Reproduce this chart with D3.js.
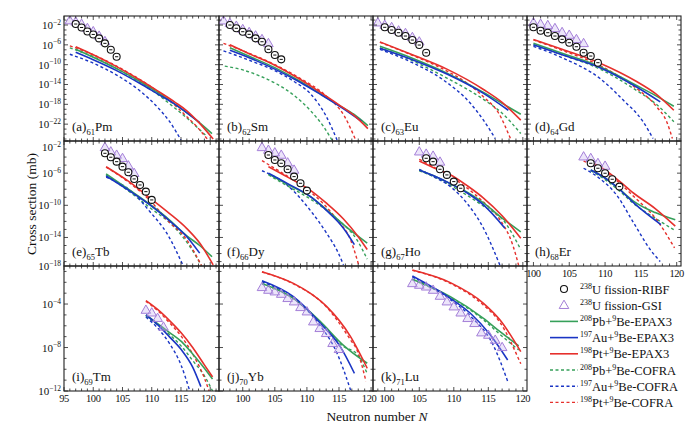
<!DOCTYPE html>
<html>
<head>
<meta charset="utf-8">
<script src="https://cdn.jsdelivr.net/npm/d3@7"></script>
<style>
  body { margin: 0; background: #fff; }
  svg text { font-family: "Liberation Serif", "DejaVu Serif", serif; fill: #111; }
</style>
</head>
<body>
<div id="chart"></div>
<script>
// panels, in reading order (a) ... (k)
const panelTags = ["a", "b", "c", "d", "e", "f", "g", "h", "i", "j", "k"]
const protonZ = [61, 62, 63, 64, 65, 66, 67, 68, 69, 70, 71]
const elements = ["Pm", "Sm", "Eu", "Gd", "Tb", "Dy", "Ho", "Er", "Tm", "Yb", "Lu"]

// every point is [neutron number N, log10 of cross section in mb]
const ribf = [
  [[97,-1.8],[98,-2.5],[99,-3.3],[100,-3.9],[101,-4.7],[102,-5.7],[103,-7.0],[104,-8.4]],
  [[98,-2.0],[99,-2.66],[100,-3.35],[101,-3.88],[102,-4.69],[103,-5.37],[104,-6.9],[105,-8.06],[106,-8.93]],
  [[100,-2.46],[101,-3.01],[102,-3.55],[103,-4.22],[104,-5.03],[105,-6.04],[106,-7.59]],
  [[100,-2.46],[101,-3.15],[102,-3.55],[103,-4.22],[104,-4.89],[105,-5.57],[106,-6.38],[107,-7.59],[108,-8.26],[109,-9.6]],
  [[102,-3.53],[103,-4.02],[104,-4.57],[105,-5.19],[106,-5.89],[107,-6.72],[108,-7.47],[109,-8.3],[110,-9.33]],
  [[104,-3.74],[105,-4.36],[106,-4.77],[107,-5.52],[108,-6.43],[109,-7.26],[110,-8.17]],
  [[106,-4.15],[107,-4.57],[108,-5.52],[109,-6.22],[110,-7.05],[111,-7.88]],
  [[108,-4.77],[109,-5.39],[110,-6.01],[111,-6.76],[112,-7.67]],
  [], [], []
]

const gsi = [
  [[96,-1.1],[97,-1.35],[98,-1.8],[99,-2.65],[100,-3.3],[101,-4.2],[102,-5.3]],
  [[97,-1.13],[98,-1.65],[99,-2.2],[100,-2.87],[101,-3.47],[102,-4.16],[103,-4.89],[104,-5.7]],
  [[99,-1.53],[100,-2.0],[101,-2.46],[102,-3.15],[103,-3.67],[104,-4.48],[105,-5.37]],
  [[100,-1.53],[101,-1.8],[102,-2.06],[103,-2.67],[104,-3.47],[105,-4.02],[106,-4.89],[107,-5.7]],
  [[102,-2.79],[103,-3.33],[104,-3.74],[105,-4.15],[106,-5.07],[107,-6.01]],
  [[103,-2.79],[104,-3.12],[105,-3.45],[106,-3.74],[107,-4.7],[108,-5.6]],
  [[105,-3.33],[106,-3.61],[107,-3.86],[108,-4.6]],
  [[107,-3.95],[108,-4.15],[109,-4.77],[110,-5.11]],
  [[109,-4.55],[110,-4.8],[111,-5.3],[112,-6.1]],
  [[103,-2.46],[104,-2.71],[105,-2.86],[106,-3.08],[107,-3.47],[108,-3.78],[109,-4.3],[110,-4.7],[111,-5.62],[112,-6.23],[113,-6.69],[114,-7.61],[115,-8.16]],
  [[104,-2.1],[105,-2.25],[106,-2.41],[107,-2.71],[108,-3.26],[109,-3.78],[110,-4.24],[111,-4.8],[112,-5.31],[113,-5.77],[114,-6.63],[115,-6.85],[116,-7.31],[117,-7.98]]
]

const epaxPb = [
  [[97,-6.9],[100,-8.5],[104,-10.8],[108,-13.4],[111,-15.6],[114,-18.0],[117,-20.6],[120.3,-23.9]],
  [[98,-6.6],[101,-8.3],[105,-10.6],[109,-13.4],[112,-15.8],[115,-18.2],[117.3,-20.0],[119.5,-22.3]],
  [[99.3,-6.3],[104,-8.7],[109,-11.7],[114.3,-15.6],[117,-17.8],[119.7,-20.0]],
  [[100,-5.7],[104,-7.7],[109.3,-10.4],[114.4,-14.2],[117,-16.2],[119.6,-18.4]],
  [[102.2,-6.1],[106,-8.0],[109.7,-9.9],[113,-11.8],[116,-13.8],[118.2,-15.0],[120.3,-16.4]],
  [[104,-6.1],[107,-7.4],[110.5,-8.9],[113,-10.5],[115.7,-12.4],[119.4,-14.7]],
  [[105,-5.6],[107,-6.3],[109.5,-7.3],[112,-8.4],[114.3,-9.7],[117,-11.6],[119.7,-13.3]],
  [[108,-5.6],[110,-6.6],[112,-8.0],[114,-9.5],[117,-10.9],[119.8,-11.8]],
  [[109,-5.0],[111,-5.8],[113,-6.6],[115.1,-7.46],[117,-8.6],[119,-9.9],[120.4,-10.9]],
  [[103,-2.1],[107.9,-3.47],[112.1,-5.62],[115.7,-7.8],[119.4,-9.45]],
  [[104,-1.72],[109.5,-3.32],[114.3,-5.31],[116.7,-6.54],[119.4,-7.84]]
]

const epaxAu = [
  [[97,-7.5],[100,-9.0],[104,-11.2],[108,-13.8],[111,-15.9],[114,-18.0],[118.2,-21.7]],
  [[98,-7.1],[101,-8.6],[105,-10.9],[109,-13.6],[112,-15.9],[115,-18.3],[117.3,-20.3],[118.5,-21.4]],
  [[99.3,-6.7],[104,-9.0],[109,-11.9],[114.3,-15.8],[117.9,-19.2]],
  [[100,-6.0],[104,-8.0],[109.3,-10.6],[114.4,-14.5],[117.7,-17.5]],
  [[102.2,-6.35],[106,-8.1],[109.7,-9.95],[113,-11.9],[116,-13.9],[118.2,-15.95]],
  [[104,-6.0],[107,-7.3],[110.5,-8.9],[113,-10.6],[115.7,-12.85],[117.4,-14.9]],
  [[105,-5.6],[107,-6.3],[109.5,-7.3],[112,-8.5],[114.3,-9.95],[117.4,-12.85]],
  [[108,-5.6],[110,-6.6],[112,-8.0],[114,-9.7],[117.8,-12.4]],
  [[109,-5.0],[111,-5.9],[113,-7.0],[115.1,-8.23],[117,-9.8],[118.4,-11.6]],
  [[103,-1.85],[107.9,-3.32],[112.1,-5.77],[115.2,-7.92],[117.4,-10.37]],
  [[104,-1.42],[109.5,-3.47],[112.4,-4.85],[115.3,-6.85],[117.8,-9.15]]
]

const epaxPt = [
  [[97,-6.4],[100,-8.0],[104,-10.4],[108,-13.1],[111,-15.3],[114,-17.6],[116,-19.3],[118,-21.6],[120.5,-25.0]],
  [[98,-6.0],[101,-7.8],[105,-10.1],[109,-13.0],[112,-15.5],[115,-18.1],[117.3,-20.2],[119.5,-22.9]],
  [[99.3,-5.4],[104,-8.0],[109,-10.9],[114.3,-15.0],[117,-17.6],[119.7,-21.2]],
  [[100,-4.9],[104,-6.9],[109.3,-9.7],[114.4,-13.4],[117,-15.8],[119.6,-19.2]],
  [[102.2,-5.2],[106,-7.0],[109.7,-9.1],[113,-11.0],[116,-12.9],[118.2,-14.7],[120.5,-17.4]],
  [[104,-5.2],[107,-6.5],[110.5,-8.1],[113,-9.7],[115.7,-11.7],[118,-13.9],[119.4,-15.5]],
  [[105,-4.5],[107,-5.3],[109.5,-6.2],[112,-7.6],[114.3,-9.1],[117,-11.3],[119.7,-14.1]],
  [[108,-4.6],[110,-5.6],[112,-7.0],[114,-8.5],[117,-10.4],[119.8,-12.6]],
  [[109,-3.69],[111,-4.5],[113,-5.5],[115.1,-6.69],[117,-8.0],[119,-9.6],[120.4,-10.7]],
  [[103,-1.02],[107.9,-2.1],[110.5,-3.0],[113.1,-4.24],[116.8,-7.0],[119.4,-9.91]],
  [[104,-0.87],[109.5,-2.03],[114.3,-3.93],[116.7,-5.47],[119.7,-8.38]]
]

const cofraPb = [
  [[96,-6.6],[100,-8.4],[104,-10.8],[108,-13.6],[111,-16.0],[114,-18.8],[117,-21.8],[119.5,-24.6]],
  [[97.2,-10.3],[100.1,-11.1],[102.7,-12.3],[105.3,-13.9],[107.9,-16.1],[110.5,-19.2],[112.6,-22.5],[113.9,-25.2]],
  [[99.3,-6.6],[104,-9.2],[109,-12.7],[114.3,-17.0],[117,-19.8],[119.7,-23.9]],
  [[100,-6.0],[104,-8.0],[109.3,-10.9],[114.4,-15.2],[117,-17.8],[119.6,-21.5]],
  [[102.2,-6.2],[106,-8.2],[109.7,-10.3],[113.7,-12.6],[116.5,-15.1],[118.5,-17.5]],
  [[104,-6.2],[107,-7.6],[110.5,-9.2],[114.7,-11.7],[117.8,-14.3],[119.4,-16.7]],
  [[105,-5.7],[107,-6.4],[109.5,-7.5],[112,-8.8],[114.3,-10.1],[117.2,-11.9],[119.7,-15.5]],
  [[108,-5.7],[110,-6.8],[112,-8.2],[114,-9.8],[117,-11.6],[119.7,-13.1]],
  [[109,-5.1],[111,-5.9],[113,-6.8],[115.1,-7.9],[117,-9.2],[119,-10.6],[120.4,-12.0]],
  [[103,-2.15],[107.9,-3.5],[112.1,-5.7],[115.7,-7.9],[117.8,-8.6],[119.4,-10.4]],
  [[104,-1.75],[109.5,-3.4],[114.3,-5.45],[116.7,-6.8],[119.4,-8.23]]
]

const cofraAu = [
  [[96,-7.9],[100,-9.7],[104,-12.1],[108,-15.3],[111,-18.6],[113,-21.4],[115,-25.2]],
  [[97,-7.2],[101,-9.1],[105.3,-11.4],[108,-13.4],[110.5,-15.8],[113,-20.4],[114.7,-25.2]],
  [[99.3,-6.9],[104,-9.6],[108.5,-13.1],[112.4,-17.8],[114.3,-21.2],[116,-24.9]],
  [[100,-6.3],[104,-8.6],[109.3,-12.8],[112.5,-17.1],[115.3,-21.5],[116.7,-24.9]],
  [[102.2,-6.5],[106.9,-8.5],[109.7,-10.8],[112.6,-13.5],[115.3,-17.4]],
  [[103,-5.7],[106.9,-7.47],[110.5,-10.6],[113.1,-13.5],[114.9,-15.95],[115.7,-17.4]],
  [[105,-5.52],[107,-6.4],[109.5,-7.67],[111.9,-9.74],[114.3,-12.85],[116.7,-17.5]],
  [[107,-5.39],[109,-6.5],[111.6,-8.71],[114,-12.2],[116.3,-15.5],[117.7,-17.0]],
  [[109,-5.2],[111,-6.2],[113,-7.6],[115,-9.6],[116.5,-12.0]],
  [[103,-1.95],[107.9,-3.47],[112.1,-6.0],[114.7,-8.53],[116.8,-11.9]],
  [[104,-1.5],[109.5,-3.6],[112.4,-5.1],[115.7,-7.77],[117.8,-11.1]]
]

const cofraPt = [
  [[96,-6.2],[100,-8.0],[104,-10.3],[108,-13.0],[111,-15.4],[113,-17.2],[116,-20.5],[118,-22.9],[119.7,-25.3]],
  [[97,-5.7],[101,-7.7],[105,-10.0],[109,-12.8],[113,-16.3],[115.8,-20.3],[117.6,-25.2]],
  [[99.3,-5.5],[104,-8.1],[109,-11.3],[112,-13.8],[114.3,-16.5],[116.5,-19.8],[118.2,-24.9]],
  [[100,-5.0],[104,-7.1],[109.3,-10.2],[114.4,-14.8],[117.2,-18.5],[118.6,-21.5],[119.4,-24.9]],
  [[102.2,-5.25],[106,-7.1],[109.7,-9.4],[112.6,-11.8],[116,-14.3],[118.5,-17.5]],
  [[103,-4.45],[107,-6.4],[110.5,-8.3],[114.7,-11.8],[116.8,-14.3],[118.1,-17.5]],
  [[105,-4.27],[107,-5.2],[109.5,-6.4],[112,-7.9],[114.3,-9.6],[116.7,-11.8],[118.6,-15.1],[119.4,-17.5]],
  [[107,-4.5],[110,-5.8],[112,-7.2],[114,-8.9],[117.2,-11.8],[119.7,-15.3]],
  [[109,-3.75],[111,-4.6],[113,-5.7],[115.1,-7.0],[117,-8.6],[119,-10.8],[119.8,-12.0]],
  [[103,-1.05],[107.9,-2.15],[113.1,-4.3],[116.8,-7.3],[117.8,-8.23],[119.2,-11.1]],
  [[104,-0.9],[109.5,-2.1],[114.3,-4.1],[116.7,-5.7],[119.7,-9.5]]
]

// axis ranges per column / row (log10 for y)
const xDomains = [[95, 121.5], [96.3, 120.3], [98.3, 120.6], [99.1, 120.6]]
const yDomains = [[-25.4, -0.18], [-17.55, -2], [-12, -0.5]]
const xMajor = [95, 100, 105, 110, 115, 120]
const yMajor = [[-22, -18, -14, -10, -6, -2], [-18, -14, -10, -6, -2], [-12, -8, -4]]

const legendLabels = [
  "^{238}U fission-RIBF", "^{238}U fission-GSI",
  "^{208}Pb+^{9}Be-EPAX3", "^{197}Au+^{9}Be-EPAX3", "^{198}Pt+^{9}Be-EPAX3",
  "^{208}Pb+^{9}Be-COFRA", "^{197}Au+^{9}Be-COFRA", "^{198}Pt+^{9}Be-COFRA"
]

const green = "#36a05a", blue = "#1a35c4", red = "#e6302c", lilac = "#a47fd8"

const curves = [
  {data: cofraPb, color: green, dash: "3,2.5"},
  {data: cofraAu, color: blue, dash: "3,2.5"},
  {data: cofraPt, color: red, dash: "3,2.5"},
  {data: epaxPb, color: green, dash: null},
  {data: epaxAu, color: blue, dash: null},
  {data: epaxPt, color: red, dash: null}
]

const width = 700, height = 433
const colEdges = [64, 219, 373, 527, 681]
const rowEdges = [16, 141, 266, 391]

const svg = d3.select("#chart")
  .append("svg")
  .attr("width", width)
  .attr("height", height)

// text with ^{sup} and _{sub} parts
function richText(sel, str, small) {
  const parts = str.split(/(\^\{[^}]*\}|_\{[^}]*\})/).filter(s => s.length)
  let shift = 0
  parts.forEach(p => {
    let s = 0, txt = p, sz = null
    if (p.startsWith("^{")) { s = -0.4; txt = p.slice(2, -1); sz = small }
    else if (p.startsWith("_{")) { s = 0.3; txt = p.slice(2, -1); sz = small }
    const t = sel.append("tspan").text(txt)
    const base = parseFloat(sel.attr("font-size"))
    if (s !== shift) t.attr("dy", ((s - shift) * base).toFixed(2))
    if (sz) t.attr("font-size", sz)
    shift = s
  })
}

function superscript(v) {
  return "10^{" + (v < 0 ? "\u2212" + (-v) : v) + "}"
}

panelTags.forEach((tag, i) => {
  const col = i % 4, row = Math.floor(i / 4)
  const x0 = colEdges[col], x1 = colEdges[col + 1]
  const y0 = rowEdges[row], y1 = rowEdges[row + 1]

  const x = d3.scaleLinear().domain(xDomains[col]).range([x0, x1])
  const y = d3.scaleLog().domain(yDomains[row].map(v => 10 ** v)).range([y1, y0])

  const g = svg.append("g")
  const clipId = "clip-" + tag
  g.append("clipPath").attr("id", clipId)
    .append("rect").attr("x", x0).attr("y", y0).attr("width", x1 - x0).attr("height", y1 - y0)

  const plot = g.append("g").attr("clip-path", `url(#${clipId})`)

  const line = d3.line()
    .x(d => x(d[0]))
    .y(d => y(10 ** d[1]))
    .curve(d3.curveMonotoneX)

  curves.forEach(c => {
    plot.append("path")
      .attr("d", line(c.data[i]))
      .attr("fill", "none")
      .attr("stroke", c.color)
      .attr("stroke-width", c.dash ? 1.4 : 1.6)
      .attr("stroke-dasharray", c.dash)
  })

  plot.selectAll(".gsi")
    .data(gsi[i])
    .enter()
    .append("path")
    .attr("d", d3.symbol(d3.symbolTriangle, 40))
    .attr("transform", d => `translate(${x(d[0])},${y(10 ** d[1]) + 0.5})`)
    .attr("fill", "rgba(200,180,240,0.35)")
    .attr("stroke", lilac)
    .attr("stroke-width", 1)

  const dots = plot.selectAll(".ribf")
    .data(ribf[i])
    .enter()
    .append("g")
    .attr("transform", d => `translate(${x(d[0])},${y(10 ** d[1])})`)
  dots.append("circle").attr("r", 3.5).attr("fill", "#fff").attr("stroke", "#111").attr("stroke-width", 1.1)
  dots.append("line").attr("x1", -1.6).attr("x2", 1.6).attr("stroke", "#111").attr("stroke-width", 1)

  // ticks, inward on all four sides
  const ticks = g.append("g").attr("stroke", "#222").attr("stroke-width", 0.8)
  d3.range(Math.ceil(xDomains[col][0]), Math.floor(xDomains[col][1]) + 1).forEach(n => {
    const len = n % 5 === 0 ? 4 : 2.5
    ticks.append("line").attr("x1", x(n)).attr("x2", x(n)).attr("y1", y1).attr("y2", y1 - len)
    ticks.append("line").attr("x1", x(n)).attr("x2", x(n)).attr("y1", y0).attr("y2", y0 + len)
  })
  d3.range(Math.ceil(yDomains[row][0]), Math.floor(yDomains[row][1]) + 1).forEach(p => {
    const len = yMajor[row].includes(p) ? 4 : 2.5
    const yy = y(10 ** p)
    ticks.append("line").attr("x1", x0).attr("x2", x0 + len).attr("y1", yy).attr("y2", yy)
    ticks.append("line").attr("x1", x1).attr("x2", x1 - len).attr("y1", yy).attr("y2", yy)
  })

  g.append("rect")
    .attr("x", x0).attr("y", y0)
    .attr("width", x1 - x0).attr("height", y1 - y0)
    .attr("fill", "none")
    .attr("stroke", "#222")
    .attr("stroke-width", 1.1)

  // y tick labels on the left column
  if (col === 0) {
    yMajor[row].forEach(p => {
      const yy = Math.max(y0 + 6, Math.min(y1, y(10 ** p)))
      const t = g.append("text")
        .attr("x", x0 - 3)
        .attr("y", yy + 4)
        .attr("text-anchor", "end")
        .attr("font-size", 11)
      richText(t, superscript(p), 7.5)
    })
  }

  // x tick labels under the bottom row and under (h)
  if (row === 2 || tag === "h") {
    xMajor.filter(n => n >= xDomains[col][0] - 0.3 && n <= xDomains[col][1]).forEach(n => {
      // keep neighbouring 120 / 100 labels apart at panel joins
      let nudge = 0
      if (n === 120 && col < 2) nudge = -2
      if (n === 100 && col === 2) nudge = 2
      g.append("text")
        .attr("x", x(n) + nudge)
        .attr("y", y1 + 11)
        .attr("text-anchor", "middle")
        .attr("font-size", 10.5)
        .attr("letter-spacing", -0.4)
        .text(n)
    })
  }

  const lab = g.append("text")
    .attr("x", x0 + 8)
    .attr("y", y1 - 10)
    .attr("font-size", 13)
  richText(lab, `(${tag})_{${protonZ[i]}}${elements[i]}`, 8.5)
})

// legend in the empty slot
const legend = svg.append("g")
const legendStyles = [
  {kind: "circle"}, {kind: "triangle"},
  {color: green, dash: null}, {color: blue, dash: null}, {color: red, dash: null},
  {color: green, dash: "3,2.5"}, {color: blue, dash: "3,2.5"}, {color: red, dash: "3,2.5"}
]
legendLabels.forEach((label, k) => {
  const yy = 289 + k * 16.2
  const st = legendStyles[k]
  if (st.kind === "circle") {
    legend.append("circle").attr("cx", 564).attr("cy", yy).attr("r", 3.5)
      .attr("fill", "none").attr("stroke", "#111").attr("stroke-width", 1.1)
  } else if (st.kind === "triangle") {
    legend.append("path").attr("d", d3.symbol(d3.symbolTriangle, 40))
      .attr("transform", `translate(564,${yy + 0.5})`)
      .attr("fill", "none").attr("stroke", lilac).attr("stroke-width", 1)
  } else {
    legend.append("line").attr("x1", 550).attr("x2", 578).attr("y1", yy).attr("y2", yy)
      .attr("stroke", st.color).attr("stroke-width", st.dash ? 1.4 : 1.6)
      .attr("stroke-dasharray", st.dash)
  }
  const t = legend.append("text")
    .attr("x", 580)
    .attr("y", yy + 4.5)
    .attr("font-size", 12.5)
  richText(t, label, 8)
})

// axis titles
svg.append("text")
  .attr("transform", "translate(36,204) rotate(-90)")
  .attr("text-anchor", "middle")
  .attr("font-size", 13.5)
  .text("Cross section (mb)")

const xt = svg.append("text")
  .attr("x", 377)
  .attr("y", 421)
  .attr("text-anchor", "middle")
  .attr("font-size", 13.5)
xt.append("tspan").text("Neutron number ")
xt.append("tspan").attr("font-style", "italic").text("N")
</script>
</body>
</html>
